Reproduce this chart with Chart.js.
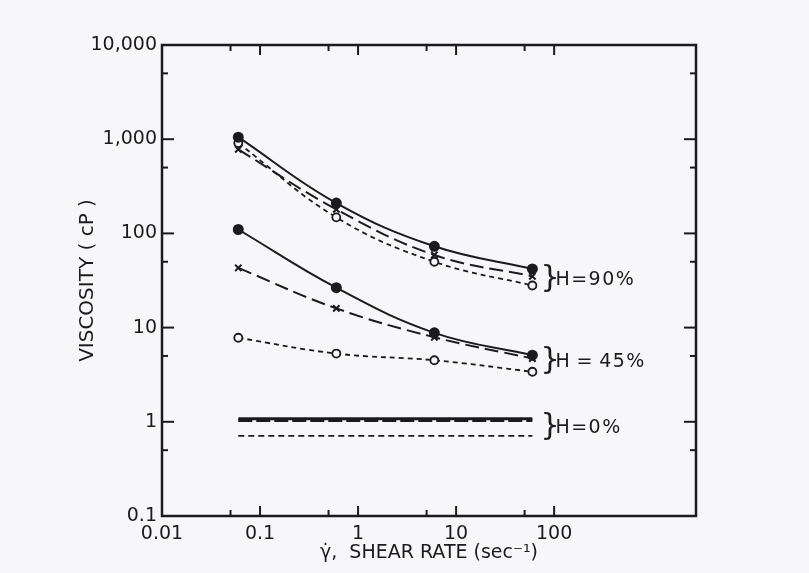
<!DOCTYPE html>
<html>
<head>
<meta charset="utf-8">
<script src="https://cdn.jsdelivr.net/npm/chart.js@4.4.0/dist/chart.umd.min.js"></script>
<style>
  html, body { margin: 0; padding: 0; background: #f7f7f9; }
</style>
</head>
<body>
<canvas id="chart" width="809" height="573"></canvas>
<script>
// shear rate (1/s) where the points were measured
const shearRates = [0.06, 0.6, 6, 60];

// H = 90 %
const h90Solid = [1050, 210, 73, 42];
const h90LongDash = [780, 180, 59, 35];
const h90ShortDash = [910, 148, 50, 28];

// H = 45 %
const h45Solid = [110, 26.5, 8.8, 5.1];
const h45LongDash = [43, 16, 7.9, 4.7];
const h45ShortDash = [7.8, 5.3, 4.5, 3.4];

// H = 0 % (flat lines, no markers)
const h0Rates = [0.06, 60];
const h0Solid = [1.08, 1.08];
const h0LongDash = [1.03, 1.03];
const h0ShortDash = [0.71, 0.71];

const xMajorTicks = [0.01, 0.1, 1, 10, 100];
const xMinorTicks = [0.05, 0.5, 5, 50];
const xTickLabels = ['0.01', '0.1', '1', '10', '100'];
const yMajorTicks = [0.1, 1, 10, 100, 1000, 10000];
const yMinorTicks = [0.5, 5, 50, 500, 5000];
const yTickLabels = ['0.1', '1', '10', '100', '1,000', '10,000'];

const groupLabels = ['H=90%', 'H\u2009=\u200945%', 'H=0%'];
const groupLabelLevels = [33, 4.4, 0.88];

const ink = '#1b1b1b';
const font = 'DejaVu Sans';

const toPoints = (xs, ys) => xs.map((v, i) => ({ x: v, y: ys[i] }));

function solid(data) {
  return {
    data, borderColor: ink, borderWidth: 2, tension: 0.4,
    pointStyle: 'circle', pointRadius: 4.5, pointBackgroundColor: ink, pointBorderColor: ink
  };
}
function longDash(data) {
  return {
    data, borderColor: ink, borderWidth: 2, borderDash: [14, 6], tension: 0.4,
    pointStyle: 'crossRot', pointRadius: 4.5, pointBorderWidth: 2, pointBorderColor: ink
  };
}
function shortDash(data) {
  return {
    data, borderColor: ink, borderWidth: 1.8, borderDash: [5, 4], tension: 0.4,
    pointStyle: 'circle', pointRadius: 4, pointBorderWidth: 1.8,
    pointBackgroundColor: '#f7f7f9', pointBorderColor: ink
  };
}
function flat(data, width, dash) {
  return { data, borderColor: ink, borderWidth: width, borderDash: dash, pointRadius: 0 };
}

// frame, inward ticks and the H= labels
const framePlugin = {
  id: 'frame',
  beforeDraw(chart) {
    const { ctx, width, height } = chart;
    ctx.save();
    ctx.fillStyle = '#f7f7f9';
    ctx.fillRect(0, 0, width, height);
    ctx.restore();
  },
  afterDraw(chart) {
    const { ctx, chartArea: a, scales: { x, y } } = chart;
    ctx.save();
    ctx.strokeStyle = ink;
    ctx.lineWidth = 2.5;
    ctx.strokeRect(a.left, a.top, a.right - a.left, a.bottom - a.top);

    const line = (x1, y1, x2, y2) => {
      ctx.beginPath(); ctx.moveTo(x1, y1); ctx.lineTo(x2, y2); ctx.stroke();
    };
    ctx.lineWidth = 2;
    xMajorTicks.forEach(v => {
      const px = x.getPixelForValue(v);
      line(px, a.bottom, px, a.bottom - 10);
      line(px, a.top, px, a.top + 10);
    });
    xMinorTicks.forEach(v => {
      const px = x.getPixelForValue(v);
      line(px, a.bottom, px, a.bottom - 6);
      line(px, a.top, px, a.top + 6);
    });
    yMajorTicks.forEach(v => {
      const py = y.getPixelForValue(v);
      line(a.left, py, a.left + 12, py);
      line(a.right, py, a.right - 12, py);
    });
    yMinorTicks.forEach(v => {
      const py = y.getPixelForValue(v);
      line(a.left, py, a.left + 6, py);
      line(a.right, py, a.right - 6, py);
    });

    ctx.fillStyle = ink;
    ctx.textBaseline = 'middle';
    const lx = x.getPixelForValue(shearRates[shearRates.length - 1]);
    groupLabels.forEach((t, i) => {
      const py = y.getPixelForValue(groupLabelLevels[i]);
      ctx.font = '30px ' + font;
      ctx.letterSpacing = '0px';
      ctx.fillText('}', lx + 8, py);
      ctx.font = '19px ' + font;
      ctx.letterSpacing = '1.5px';
      ctx.fillText(t, lx + 23, py + 1);
    });
    ctx.restore();
  }
};

new Chart(document.getElementById('chart'), {
  type: 'line',
  data: {
    datasets: [
      solid(toPoints(shearRates, h90Solid)),
      longDash(toPoints(shearRates, h90LongDash)),
      shortDash(toPoints(shearRates, h90ShortDash)),
      solid(toPoints(shearRates, h45Solid)),
      longDash(toPoints(shearRates, h45LongDash)),
      shortDash(toPoints(shearRates, h45ShortDash)),
      flat(toPoints(h0Rates, h0Solid), 3, []),
      flat(toPoints(h0Rates, h0LongDash), 3, [14, 4]),
      flat(toPoints(h0Rates, h0ShortDash), 1.8, [6, 4])
    ]
  },
  options: {
    responsive: false,
    animation: false,
    devicePixelRatio: 1,
    layout: { padding: { top: 45, right: 113, bottom: 0, left: 0 } },
    plugins: { legend: { display: false }, tooltip: { enabled: false } },
    scales: {
      x: {
        type: 'logarithmic',
        min: 0.01,
        max: 2800,
        afterBuildTicks: s => { s.ticks = xMajorTicks.map(v => ({ value: v })); },
        afterFit: s => { s.height = 57; },
        grid: { display: false, drawTicks: false },
        border: { display: false },
        ticks: {
          autoSkip: false, maxRotation: 0, padding: 7, color: ink,
          font: { family: font, size: 19 },
          callback: v => xTickLabels[xMajorTicks.indexOf(v)] || ''
        },
        title: {
          display: true, text: 'γ̇,  SHEAR RATE (sec⁻¹)', color: ink,
          font: { family: font, size: 19 }, padding: { top: 0, bottom: 9 }
        }
      },
      y: {
        type: 'logarithmic',
        min: 0.1,
        max: 10000,
        afterBuildTicks: s => { s.ticks = yMajorTicks.map(v => ({ value: v })); },
        afterFit: s => { s.width = 162; },
        grid: { display: false, drawTicks: false },
        border: { display: false },
        ticks: {
          autoSkip: false, padding: 5, color: ink,
          font: { family: font, size: 19 },
          callback: v => yTickLabels[yMajorTicks.indexOf(v)] || ''
        },
        title: {
          display: true, text: 'VISCOSITY ( cP )', color: ink,
          font: { family: font, size: 20 }, padding: { top: 76, bottom: 0 }
        }
      }
    }
  },
  plugins: [framePlugin]
});
</script>
</body>
</html>
